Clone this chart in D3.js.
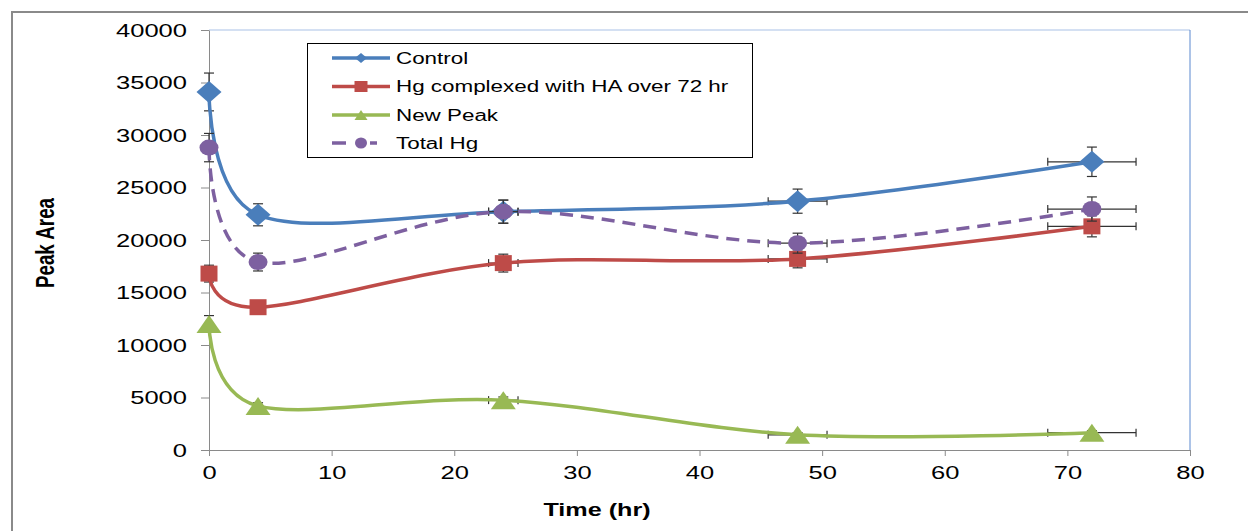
<!DOCTYPE html>
<html>
<head>
<meta charset="utf-8">
<script src="https://cdn.jsdelivr.net/npm/d3@7"></script>
<style>
  body { margin: 0; background: #fff; }
  text { font-family: "Liberation Sans", Arial, sans-serif; fill: #000; }
</style>
</head>
<body>
<svg id="chart" width="1248" height="531"></svg>
<script>
// data
const timeHr = [0, 4, 24, 48, 72];
const controlVals = [34100, 22400, 22700, 23700, 27450];
const controlErr = [1800, 1050, 1100, 1150, 1400];
const hgHaVals = [16800, 13600, 17800, 18200, 21300];
const hgHaErr = [800, 600, 850, 850, 1000];
const newPeakVals = [12000, 4200, 4750, 1450, 1650];
const newPeakErr = [800, 300, 300, 200, 200];
const totalHgVals = [28800, 17900, 22700, 19700, 22950];
const totalHgErr = [1350, 850, 1100, 950, 1150];
const timeErrPct = 0.05; // x error bars are 5% of time
const xTicks = [0, 10, 20, 30, 40, 50, 60, 70, 80];
const yTicks = [0, 5000, 10000, 15000, 20000, 25000, 30000, 35000, 40000];
const seriesNames = ['Control', 'Hg complexed with HA over 72 hr', 'New Peak', 'Total Hg'];

const series = [
  { name: seriesNames[0], vals: controlVals, err: controlErr, color: '#4a7ebb', marker: 'diamond' },
  { name: seriesNames[1], vals: hgHaVals, err: hgHaErr, color: '#be4b48', marker: 'square' },
  { name: seriesNames[2], vals: newPeakVals, err: newPeakErr, color: '#98b954', marker: 'triangle' },
  { name: seriesNames[3], vals: totalHgVals, err: totalHgErr, color: '#7d60a0', marker: 'circle', dash: '13,8' }
];

const svg = d3.select('#chart');
const plot = { left: 209, top: 30, right: 1190, bottom: 450 };
const sx = 1.38; // text in the picture is stretched horizontally

const x = d3.scaleLinear([0, 80], [plot.left, plot.right]);
const y = d3.scaleLinear([0, 40000], [plot.bottom, plot.top]);

// outer frame
svg.append('path')
  .attr('d', `M12,531V12H1248`)
  .attr('fill', 'none').attr('stroke', '#8a8a8a').attr('stroke-width', 2);

// plot area border (top / right)
svg.append('line').attr('x1', plot.left).attr('x2', plot.right).attr('y1', plot.top).attr('y2', plot.top)
  .attr('stroke', '#a9c1e6').attr('stroke-width', 1);
svg.append('line').attr('x1', plot.right).attr('x2', plot.right).attr('y1', plot.top).attr('y2', plot.bottom)
  .attr('stroke', '#5a88cf').attr('stroke-width', 1);

// axes
const yAxis = svg.append('g')
  .attr('transform', `translate(${plot.left},0)`)
  .call(d3.axisLeft(y).tickValues(yTicks).tickSize(8).tickSizeOuter(0).tickFormat(d => d));
const xAxis = svg.append('g')
  .attr('transform', `translate(0,${plot.bottom})`)
  .call(d3.axisBottom(x).tickValues(xTicks).tickSize(6).tickSizeOuter(0).tickFormat(d => d));

[yAxis, xAxis].forEach(g => {
  g.select('.domain').attr('stroke', '#8a8a8a');
  g.selectAll('.tick line').attr('stroke', '#8a8a8a');
  g.selectAll('.tick text').attr('font-size', 18.5).attr('fill', '#000')
    .style('font-family', '"Liberation Sans", Arial, sans-serif');
});
yAxis.selectAll('.tick text')
  .attr('x', 0).attr('dy', '0.35em')
  .attr('transform', `translate(-22,0) scale(${sx},1)`);
xAxis.selectAll('.tick text')
  .attr('y', 0).attr('dy', '0.35em')
  .attr('transform', `translate(0,23) scale(${sx},1)`);

// axis titles
svg.append('text')
  .attr('transform', `translate(597,516) scale(1.4,1)`)
  .attr('text-anchor', 'middle').attr('font-weight', 'bold').attr('font-size', 18)
  .text('Time (hr)');
svg.append('text')
  .attr('transform', `translate(54,243) scale(${sx},1) rotate(-90)`)
  .attr('text-anchor', 'middle').attr('font-weight', 'bold').attr('font-size', 19)
  .attr('textLength', 90).attr('lengthAdjust', 'spacingAndGlyphs')
  .text('Peak Area');

// marker paths
function markerPath(type, w, h) {
  const a = w / 2, b = h / 2;
  if (type === 'diamond') return `M0,${-b}L${a},0L0,${b}L${-a},0Z`;
  if (type === 'square') return `M${-a},${-b}H${a}V${b}H${-a}Z`;
  if (type === 'triangle') return `M0,${-b}L${a},${b}L${-a},${b}Z`;
  return null;
}
function drawMarker(g, s, cx, cy, w, h) {
  if (s.marker === 'circle') {
    g.append('ellipse').attr('cx', cx).attr('cy', cy).attr('rx', w / 2).attr('ry', h / 2).attr('fill', s.color);
  } else {
    g.append('path').attr('d', markerPath(s.marker, w, h))
      .attr('transform', `translate(${cx},${cy})`).attr('fill', s.color);
  }
}
const markerSize = { diamond: [25, 22], square: [17, 16], triangle: [25, 18], circle: [19, 16] };

const curve = d3.curveCardinal.tension(0);
const line = d3.line().x(d => x(d.t)).y(d => y(d.v)).curve(curve);

series.forEach(s => {
  const pts = timeHr.map((t, i) => ({ t, v: s.vals[i], e: s.err[i] }));
  const g = svg.append('g');

  // error bars
  const eb = g.append('g').attr('stroke', '#333').attr('stroke-width', 1.2);
  pts.forEach(p => {
    const cx = x(p.t), cy = y(p.v);
    const y0 = y(p.v - p.e), y1 = y(p.v + p.e);
    eb.append('line').attr('x1', cx).attr('x2', cx).attr('y1', y0).attr('y2', y1);
    [y0, y1].forEach(yy => eb.append('line').attr('x1', cx - 5).attr('x2', cx + 5).attr('y1', yy).attr('y2', yy));
    const xe = p.t * timeErrPct;
    if (x(p.t + xe) - x(p.t) > 3) {
      const x0 = x(p.t - xe), x1 = x(p.t + xe);
      eb.append('line').attr('x1', x0).attr('x2', x1).attr('y1', cy).attr('y2', cy);
      [x0, x1].forEach(xx => eb.append('line').attr('x1', xx).attr('x2', xx).attr('y1', cy - 4).attr('y2', cy + 4));
    }
  });

  g.append('path').datum(pts)
    .attr('d', line)
    .attr('fill', 'none').attr('stroke', s.color).attr('stroke-width', 3.5)
    .attr('stroke-dasharray', s.dash || null);

  const [mw, mh] = markerSize[s.marker];
  pts.forEach(p => drawMarker(g, s, x(p.t), y(p.v), mw, mh));
});

// legend
const legend = svg.append('g');
legend.append('rect')
  .attr('x', 307.5).attr('y', 43.5).attr('width', 445).attr('height', 114)
  .attr('fill', '#fff').attr('stroke', '#000').attr('stroke-width', 1);
const legendRowY = [58, 86.5, 115, 143];
series.forEach((s, i) => {
  const ly = legendRowY[i];
  const row = legend.append('g');
  if (s.dash) {
    row.append('line').attr('x1', 332).attr('x2', 346).attr('y1', ly).attr('y2', ly)
      .attr('stroke', s.color).attr('stroke-width', 3.5);
    row.append('line').attr('x1', 370).attr('x2', 377).attr('y1', ly).attr('y2', ly)
      .attr('stroke', s.color).attr('stroke-width', 3.5);
  } else {
    row.append('line').attr('x1', 332).attr('x2', 390).attr('y1', ly).attr('y2', ly)
      .attr('stroke', s.color).attr('stroke-width', 3.5);
  }
  const lm = { diamond: [12, 10], square: [13, 11], triangle: [13, 10], circle: [12, 11] }[s.marker];
  drawMarker(row, s, 361, ly, lm[0], lm[1]);
  row.append('text')
    .attr('transform', `translate(396,${ly}) scale(1.4,1)`)
    .attr('dy', '0.36em').attr('font-size', 16)
    .text(s.name);
});
</script>
</body>
</html>
